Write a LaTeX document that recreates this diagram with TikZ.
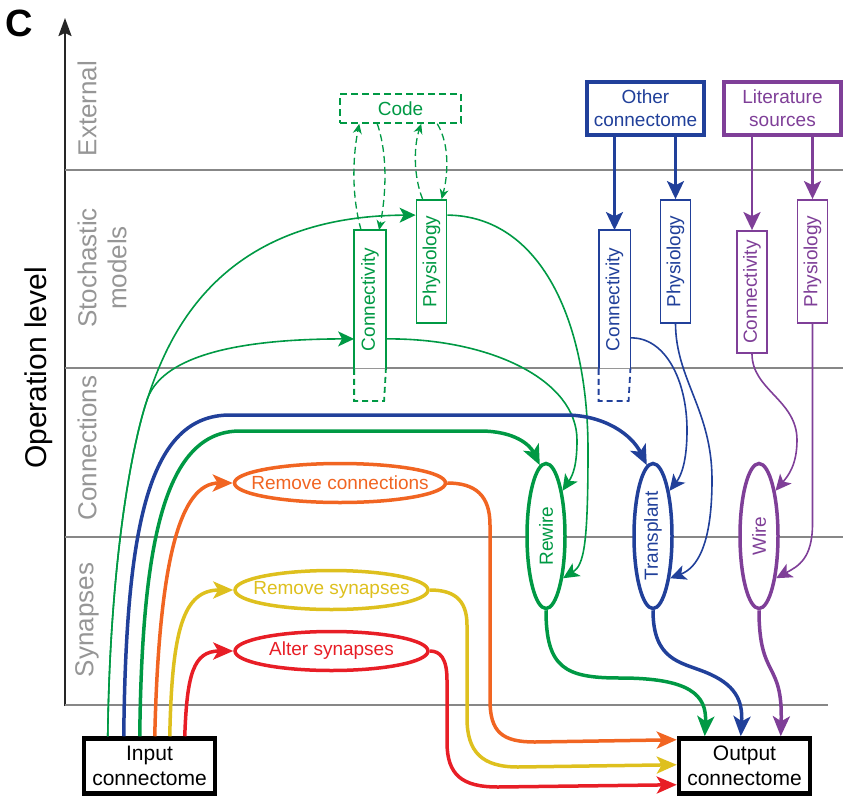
\documentclass[tikz,border=0pt]{standalone}
\usepackage{fontspec}
\setmainfont{Liberation Sans}
\usepackage{graphicx}
\usetikzlibrary{arrows.meta,shapes.geometric}

\definecolor{cgreen}{RGB}{0,153,68}
\definecolor{cblue}{RGB}{33,64,154}
\definecolor{cpurple}{RGB}{127,63,152}
\definecolor{corange}{RGB}{241,101,34}
\definecolor{cyellow}{RGB}{222,192,30}
\definecolor{cred}{RGB}{232,30,38}
\definecolor{lvlgray}{RGB}{150,150,150}
\definecolor{linegray}{RGB}{135,135,135}

\newcommand{\vlabel}[1]{\rotatebox{90}{#1}}

\begin{document}
\begin{tikzpicture}[
    x=1pt, y=-1pt,
    every node/.style={font=\fontsize{19}{23}\selectfont, inner sep=0pt},
    lvltext/.style={rotate=90, text=lvlgray, align=center,
        font=\fontsize{26}{30}\selectfont},
    sepline/.style={draw=linegray, line width=1.8pt},
    modbox/.style={fill=white, line width=1.8pt, minimum width=30pt},
    srcbox/.style={draw, fill=white, line width=3.8pt, align=center,
        minimum width=117pt, minimum height=53pt},
    opell/.style={ellipse, draw, fill=white, line width=3.5pt},
    endbox/.style={draw=black, fill=white, line width=4.5pt, align=center,
        minimum width=131pt, minimum height=55pt,
        font=\fontsize{21}{25}\selectfont},
    fat/.style={line width=3.5pt, -{Stealth[length=20pt,width=17pt,inset=5pt]}},
    slim/.style={line width=1.6pt, -{Stealth[length=16pt,width=15pt,inset=4pt]}},
    feed/.style={line width=2.4pt, -{Stealth[length=18pt,width=17pt,inset=4pt]}},
    codelink/.style={line width=1.3pt, dash pattern=on 7pt off 4pt,
        -{Stealth[length=10pt,width=9pt]}}
]
\useasboundingbox (0,0) rectangle (847,804);

% Axis and level bands
\draw[line width=2.2pt, black!85, -{Stealth[length=18pt,width=13pt,inset=3pt]}] (65,706) -- (65,18);
\foreach \y in {170,368,537}
    \draw[sepline] (65,\y) -- (843,\y);
\draw[sepline] (65,705) -- (828,705);

\node[font=\fontsize{38}{40}\selectfont\bfseries] (panel) at (19,23.5) {C};
\node[rotate=90, font=\fontsize{30}{36}\selectfont] (axlabel) at (39,368) {Operation level};

\node[lvltext] (lext) at (87,108.5) {External};
\node[lvltext] (lsto) at (102,268) {Stochastic\\models};
\node[lvltext] (lcon) at (87,448) {Connections};
\node[lvltext] (lsyn) at (87,620) {Synapses};

% External sources
\node[draw=cgreen, text=cgreen, line width=1.5pt, dash pattern=on 7pt off 4pt,
    minimum width=121pt, minimum height=29pt] (code) at (400.5,108.5) {Code};
\node[srcbox, draw=cblue, text=cblue] (other) at (645.5,108.5) {Other\\connectome};
\node[srcbox, draw=cpurple, text=cpurple] (lit) at (782.5,108.5) {Literature\\sources};

% Stochastic model boxes
\node[modbox, text=cgreen, minimum height=137pt] (gconn) at (370,299.5) {\vlabel{Connectivity}};
\draw[cgreen, line width=1.8pt] (gconn.south west) -- (gconn.north west)
    -- (gconn.north east) -- (gconn.south east);
\draw[cgreen, line width=1.8pt, dash pattern=on 6pt off 4pt, fill=white]
    (gconn.south west) -- ++(0,32) -- ++(30,0) -- (gconn.south east);
\node[modbox, draw=cgreen, text=cgreen, minimum height=123pt] (gphys) at (431.5,261.5) {\vlabel{Physiology}};

\node[modbox, text=cblue, minimum height=137pt] (bconn) at (614.5,299.5) {\vlabel{Connectivity}};
\draw[cblue, line width=1.8pt] (bconn.south west) -- (bconn.north west)
    -- (bconn.north east) -- (bconn.south east);
\draw[cblue, line width=1.8pt, dash pattern=on 6pt off 4pt, fill=white]
    (bconn.south west) -- ++(0,32) -- ++(30,0) -- (bconn.south east);
\node[modbox, draw=cblue, text=cblue, minimum height=123pt] (bphys) at (675.5,261.5) {\vlabel{Physiology}};

\node[modbox, draw=cpurple, text=cpurple, minimum height=122pt] (lconn) at (752,292) {\vlabel{Connectivity}};
\node[modbox, draw=cpurple, text=cpurple, minimum height=123pt] (lphys) at (812.5,261.5) {\vlabel{Physiology}};

% Operations
\node[opell, draw=corange, text=corange, inner xsep=-25pt,
    minimum width=211pt, minimum height=39pt] (rcon) at (340,483) {Remove connections};
\node[opell, draw=cyellow, text=cyellow, inner xsep=-25pt,
    minimum width=193pt, minimum height=39pt] (rsyn) at (331.5,590) {Remove synapses};
\node[opell, draw=cred, text=cred, inner xsep=-25pt,
    minimum width=193pt, minimum height=39pt] (alt) at (331.5,651) {Alter synapses};

\node[opell, draw=cgreen, text=cgreen, minimum width=38pt, minimum height=145pt]
    (rewire) at (546,536) {\vlabel{Rewire}};
\node[opell, draw=cblue, text=cblue, minimum width=38pt, minimum height=145pt]
    (transplant) at (653,536) {\vlabel{Transplant}};
\node[opell, draw=cpurple, text=cpurple, minimum width=38pt, minimum height=145pt]
    (wire) at (759,536) {\vlabel{Wire}};

% Connectomes
\node[endbox] (input) at (149.5,766) {Input\\connectome};
\node[endbox] (output) at (744.5,766) {Output\\connectome};

% Sources feeding the models
\draw[feed, cblue] (other.south -| bconn.north) -- (bconn.north);
\draw[feed, cblue] (other.south -| bphys.north) -- (bphys.north);
\draw[feed, cpurple] (lit.south -| lconn.north) -- (lconn.north);
\draw[feed, cpurple] (lit.south -| lphys.north) -- (lphys.north);

% Code round trips
\draw[codelink, cgreen] ([xshift=7pt]gconn.north west) .. controls (350,190) and (354,150) .. ([xshift=20pt]code.south west);
\draw[codelink, cgreen] ([xshift=38pt]code.south west) .. controls (388,155) and (386,195) .. ([xshift=25pt]gconn.north west);
\draw[codelink, cgreen] ([xshift=7pt]gphys.north west) .. controls (413,175) and (414,145) .. ([xshift=82pt]code.south west);
\draw[codelink, cgreen] ([xshift=98pt]code.south west) .. controls (450,145) and (448,175) .. ([xshift=26pt]gphys.north west);

% Input into the stochastic models
\draw[slim, cgreen] ([xshift=26pt]input.north west) .. controls (110,560) and (132,445) .. (147,400)
    .. controls (167,340) and (215,216) .. ([yshift=-16pt]gphys.north west);
\draw[slim, cgreen] ([xshift=26pt]input.north west) .. controls (110,560) and (132,445) .. (147,400)
    .. controls (157,370) and (200,339) .. ([yshift=30pt]gconn.south west);

% Models into the operations
\draw[slim, cgreen] ([yshift=30pt]gconn.south east) .. controls (490,338) and (577,380) .. (577,440)
    .. controls (577,465) and (573,475) .. (rewire.70);
\draw[slim, cgreen] ([yshift=-16pt]gphys.north east) .. controls (540,216) and (588,320) .. (588,450)
    .. controls (588,545) and (584,565) .. (rewire.-68);
\draw[slim, cblue] ([yshift=31pt]bconn.south east) .. controls (665,337) and (687,380) .. (687,430)
    .. controls (687,462) and (681,476) .. (transplant.70);
\draw[slim, cblue] (bphys.south) .. controls (676,380) and (712,410) .. (712,480)
    .. controls (712,545) and (697,568) .. (transplant.-68);
\draw[slim, cpurple] (lconn.south) .. controls (752,390) and (797,400) .. (797,440)
    .. controls (797,465) and (788,476) .. (wire.70);
\draw[slim, cpurple] (lphys.south) -- ++(0,200) .. controls +(0,35) and +(22,-12) .. (wire.-68);

% Input into the operations
\draw[fat, cblue] ([xshift=42pt]input.north west) .. controls (126,520) and (150,415) .. (230,415)
    -- (565,415) .. controls (605,415) and (632,435) .. (transplant.95);
\draw[fat, cgreen] ([xshift=58pt]input.north west) .. controls (142,540) and (165,431) .. (240,431)
    -- (480,431) .. controls (515,431) and (530,445) .. (rewire.95);
\draw[fat, corange] ([xshift=73pt]input.north west) .. controls (159,560) and (180,483) .. (rcon.west);
\draw[fat, cyellow] ([xshift=88pt]input.north west) .. controls (172,630) and (183,590) .. (rsyn.west);
\draw[fat, cred] ([xshift=103pt]input.north west) .. controls (187,675) and (193,651) .. (alt.west);

% Operations into the output
\draw[fat, corange] (rcon.east) .. controls (475,483) and (490,495) .. (490,525) -- (490,700)
    .. controls (490,732) and (502,742) .. (535,742) -- ([yshift=-3.5pt]output.north west);
\draw[fat, cyellow] (rsyn.east) .. controls (452,590) and (467,598) .. (467,625) -- (467,718)
    .. controls (467,752) and (482,767) .. (518,767) -- ([yshift=-28.5pt]output.north west);
\draw[fat, cred] (alt.east) .. controls (440,651) and (447,658) .. (447,680) -- (447,742)
    .. controls (447,775) and (462,787) .. (498,787) -- ([yshift=-48.5pt]output.north west);
\draw[fat, cgreen] (rewire.south) .. controls (546,668) and (565,678) .. (620,678)
    .. controls (690,678) and (707,695) .. ([xshift=28pt]output.north west);
\draw[fat, cblue] (transplant.south) .. controls (653,660) and (680,662) .. (705,672)
    .. controls (735,684) and (743,700) .. ([xshift=64pt]output.north west);
\draw[fat, cpurple] (wire.south) .. controls (759,680) and (783,660) .. ([xshift=104pt]output.north west);

\end{tikzpicture}
\end{document}
